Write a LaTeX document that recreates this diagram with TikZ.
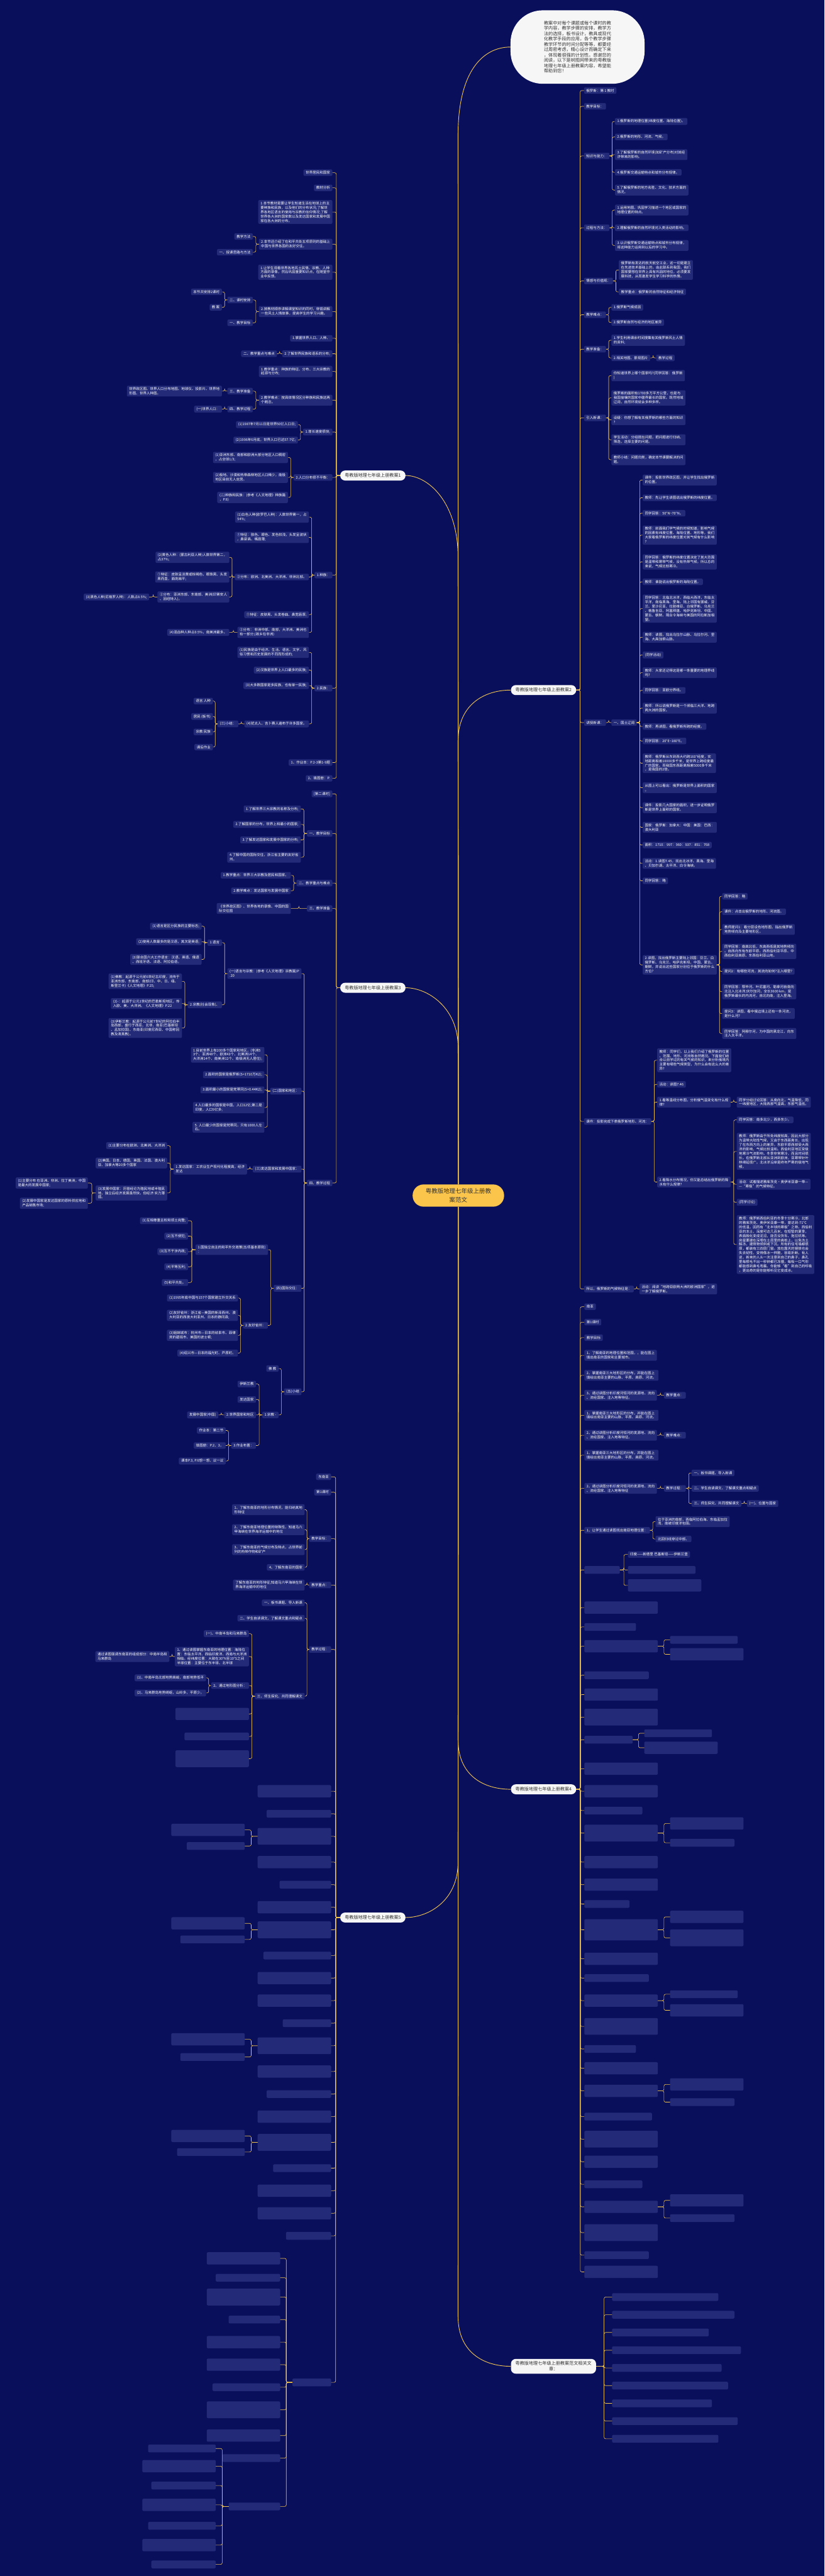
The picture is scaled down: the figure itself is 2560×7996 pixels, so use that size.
\documentclass[tikz,border=0pt]{standalone}
\usepackage{fontspec}
\setmainfont{Noto Sans CJK SC}
\usepackage{tikz}
\usetikzlibrary{positioning,calc}
\definecolor{bgNavy}{HTML}{0A0F5C}
\definecolor{leafBlue}{HTML}{232B78}
\definecolor{linkGold}{HTML}{F0C450}
\definecolor{mainWhite}{HTML}{F6F6F6}
\definecolor{rootYellow}{HTML}{FBC54B}
\definecolor{textGray}{HTML}{333333}
\tikzstyle{tLeaf} = [rectangle, rounded corners=4pt, fill=leafBlue, text=white, align=left, font=\fontsize{10.8}{13.5}\selectfont, inner xsep=7pt, inner ysep=5pt]
\tikzstyle{tMain} = [rectangle, rounded corners=15pt, fill=mainWhite, text=textGray, align=center, font=\fontsize{13.9}{17}\selectfont, inner xsep=14pt, inner ysep=8pt, minimum height=31pt]
\tikzstyle{tRoot} = [rectangle, rounded corners=34pt, fill=rootYellow, text=textGray, align=center, font=\fontsize{18.5}{26.7}\selectfont, minimum width=284pt, minimum height=69pt]
\tikzstyle{tNote} = [rectangle, rounded corners=100pt, fill=mainWhite, text=textGray, align=left, font=\fontsize{13.9}{16.6}\selectfont, minimum width=416pt, minimum height=228pt]
\tikzstyle{tLink} = [draw=linkGold, line width=1.2pt, rounded corners=5pt]
\tikzstyle{tTrunk} = [draw=linkGold, line width=1.8pt]
\newcommand{\linkR}[2]{\draw[tLink] (#1.east) -| ($(#1.east)!.5!(#2.west)$) |- (#2.west);}
\newcommand{\linkL}[2]{\draw[tLink] (#1.west) -| ($(#1.west)!.5!(#2.east)$) |- (#2.east);}
\begin{document}
\begin{tikzpicture}[x=1pt, y=-1pt]
\fill[bgNavy] (0,0) rectangle (2560,7996);
\useasboundingbox (0,0) rectangle (2560,7996);

% centre and main branches
\node[tRoot] (Root) at (1423,3711) {粤教版地理七年级上册教\\案范文};
\node[tNote] (Note) at (1793,146) {教案中对每个课题或每个课时的教\\学内容，教学步骤的安排，教学方\\法的选择，板书设计，教具或现代\\化教学手段的应用，各个教学步骤\\教学环节的时间分配等等，都要经\\过周密考虑，精心设计而确定下来\\，体现着很强的计划性。感谢您的\\阅读，以下是树图网带来的粤教版\\地理七年级上册教案内容，希望能\\帮助到您！};
\node[tMain, anchor=east] (PlanA) at (1259,1476) {粤教版地理七年级上册教案1};
\node[tMain, anchor=west] (PlanB) at (1586,2142) {粤教版地理七年级上册教案2};
\node[tMain, anchor=east] (PlanC) at (1259,3066) {粤教版地理七年级上册教案3};
\node[tMain, anchor=west] (PlanD) at (1586,5554) {粤教版地理七年级上册教案4};
\node[tMain, anchor=east] (PlanE) at (1259,5952) {粤教版地理七年级上册教案5};
\node[tMain, anchor=west] (PlanF) at (1586,7345) {粤教版地理七年级上册教案范文相关文\\章：};

\draw[tTrunk] (Root.north) -- (1422,420) .. controls (1422,220) and (1500,146) .. (Note.west);
\draw[tTrunk] (Root.north) -- (1422,1730) .. controls (1422,1560) and (1330,1476) .. (PlanA.east);
\draw[tTrunk] (Root.north) -- (1422,2300) .. controls (1422,2190) and (1500,2142) .. (PlanB.west);
\draw[tTrunk] (Root.north) -- (1422,3250) .. controls (1422,3130) and (1330,3066) .. (PlanC.east);
\draw[tTrunk] (Root.south) -- (1422,5400) .. controls (1422,5510) and (1500,5554) .. (PlanD.west);
\draw[tTrunk] (Root.south) -- (1422,5780) .. controls (1422,5900) and (1330,5952) .. (PlanE.east);
\draw[tTrunk] (Root.south) -- (1422,7190) .. controls (1422,7300) and (1500,7345) .. (PlanF.west);

% ---- plan 2 (right) ----
\node[tLeaf, anchor=west] (Rus1) at (1813,281) {俄罗斯：第 1 教时};
\node[tLeaf, anchor=west] (Goal) at (1813,330) {教学目标：};
\node[tLeaf, anchor=west] (Know) at (1813,484) {知识与能力：};
\node[tLeaf, anchor=west] (KnowA) at (1909,377) {1.俄罗斯的地理位置(纬度位置、海陆位置)。};
\node[tLeaf, anchor=west] (KnowB) at (1909,425) {2.俄罗斯的地形、河流、气候。};
\node[tLeaf, anchor=west] (KnowC) at (1909,480) {3.了解俄罗斯的自然环境(如矿产分布)对其经\\济带来的影响。};
\node[tLeaf, anchor=west] (KnowD) at (1909,535) {4.俄罗斯交通运输特点和城市分布规律。};
\node[tLeaf, anchor=west] (KnowE) at (1909,590) {5.了解俄罗斯的地方名胜、文化、技术方面的\\情况。};
\node[tLeaf, anchor=west] (Meth) at (1813,707) {过程与方法：};
\node[tLeaf, anchor=west] (MethA) at (1909,652) {1.运用地图，巩固学习描述一个地区或国家的\\地理位置的特点。};
\node[tLeaf, anchor=west] (MethB) at (1909,707) {2.理解俄罗斯的自然环境对人类活动的影响。};
\node[tLeaf, anchor=west] (MethC) at (1909,762) {3.认识俄罗斯交通运输特点和城市分布规律，\\将这种能力运用到以后的学习中。};
\node[tLeaf, anchor=west] (Emot) at (1813,872) {情感与价值观：};
\node[tLeaf, anchor=west] (EmotA) at (1921,838) {俄罗斯有发达的航天航空工业，这一切是建立\\在先进技术基础上的。由此联系到我国，我们\\国家要想在世界上具有巩固的地位，必须要发\\展科技，从而激发学生学习科学的热情。};
\node[tLeaf, anchor=west] (EmotB) at (1921,906) {教学重点：俄罗斯的自然特征和经济特征};
\node[tLeaf, anchor=west] (Hard) at (1813,977) {教学难点：};
\node[tLeaf, anchor=west] (HardA) at (1898,954) {1.俄罗斯气候成因};
\node[tLeaf, anchor=west] (HardB) at (1898,1001) {2.俄罗斯自然与经济的地区差异};
\node[tLeaf, anchor=west] (Prep) at (1813,1084) {教学准备：};
\node[tLeaf, anchor=west] (PrepA) at (1898,1056) {1.学生利用课余时间搜集有关俄罗斯风土人情\\的资料;};
\node[tLeaf, anchor=west] (PrepB) at (1898,1111) {2.相关地图、景观图片};
\node[tLeaf, anchor=west] (PrepC) at (2037,1111) {教学过程};
\node[tLeaf, anchor=west] (Intro) at (1813,1297) {引入新课：};
\node[tLeaf, anchor=west] (IntroA) at (1898,1166) {你知道世界上哪个国家吗?(同学回答：俄罗斯\\)};
\node[tLeaf, anchor=west] (IntroB) at (1898,1235) {俄罗斯的面积有1700多万平方公里，也是与\\我国接壤的国家中疆界最长的国家。既然地域\\辽阔，自然环境就会多种多样。};
\node[tLeaf, anchor=west] (IntroC) at (1898,1303) {设疑：你想了解有关俄罗斯的哪些方面的知识\\?};
\node[tLeaf, anchor=west] (IntroD) at (1898,1365) {学生活动：分组提出问题，把问题进行归纳、\\筛选，选择主要的问题。};
\node[tLeaf, anchor=west] (IntroE) at (1898,1427) {教师小结：问题归类，确定本节课要解决的问\\题。};
\node[tLeaf, anchor=west] (Teach) at (1813,2243) {讲授新课：};
\node[tLeaf, anchor=west] (Land) at (1898,2243) {一、国土辽阔};
\node[tLeaf, anchor=west] (LandA) at (1995,1490) {课件：投影世界政区图，并让学生找出俄罗斯\\的位置。};
\node[tLeaf, anchor=west] (LandB) at (1995,1545) {教师：先让学生读图说出俄罗斯的纬度位置。};
\node[tLeaf, anchor=west] (LandC) at (1995,1593) {同学回答：50°N\textasciitilde70°N。};
\node[tLeaf, anchor=west] (LandD) at (1995,1661) {教师：前面我们学气候的时候知道，影响气候\\的因素有纬度位置、海陆位置、地形等，我们\\大家看俄罗斯的纬度位置对其气候有什么影响\\?};
\node[tLeaf, anchor=west] (LandE) at (1995,1744) {同学回答：俄罗斯的纬度位置决定了其大范围\\是温带和寒带气候，没有热带气候。所以总的\\来说，气候比较寒冷。};
\node[tLeaf, anchor=west] (LandF) at (1995,1806) {教师：谁能说出俄罗斯的海陆位置。};
\node[tLeaf, anchor=west] (LandG) at (1995,1889) {同学回答：北临北冰洋，西临大西洋，东临太\\平洋，南临黑海、里海。陆上邻国有挪威、芬\\兰、爱沙尼亚、拉脱维亚、白俄罗斯、乌克兰\\、格鲁吉亚、阿塞拜疆、哈萨克斯坦、中国、\\蒙古、朝鲜。隔白令海峡与美国的阿拉斯加相\\望。};
\node[tLeaf, anchor=west] (LandH) at (1995,1978) {教师：读图，找出乌拉尔山脉、乌拉尔河、里\\海、大高加索山脉。};
\node[tLeaf, anchor=west] (LandI) at (1995,2033) {(同学活动)};
\node[tLeaf, anchor=west] (LandJ) at (1995,2088) {教师：大家还记得这是哪一条重要的地理界线\\吗?};
\node[tLeaf, anchor=west] (LandK) at (1995,2143) {同学回答：亚欧分界线。};
\node[tLeaf, anchor=west] (LandL) at (1995,2198) {教师：所以说俄罗斯是一个濒临三大洋、地跨\\两大洲的国家。};
\node[tLeaf, anchor=west] (LandM) at (1995,2255) {教师：再读图，看俄罗斯所跨的经度。};
\node[tLeaf, anchor=west] (LandN) at (1995,2300) {同学回答：20°E\textasciitilde180°E。};
\node[tLeaf, anchor=west] (LandO) at (1995,2369) {教师：俄罗斯从东到西大约跨160°经度，实\\地距离相差10000多千米，是世界上跨经度最\\广的国家。而我国东西距离相差5000多千米\\，是我国的2倍。};
\node[tLeaf, anchor=west] (LandP) at (1995,2445) {从图上可以看出：俄罗斯是世界上面积的国家\\。};
\node[tLeaf, anchor=west] (LandQ) at (1995,2507) {课件：投影几大国家的面积，进一步证明俄罗\\斯是世界上面积的国家。};
\node[tLeaf, anchor=west] (LandR) at (1995,2568) {国家：俄罗斯：加拿大：中国：美国：巴西：\\澳大利亚};
\node[tLeaf, anchor=west] (LandS) at (1995,2623) {面积：1710：997：960：937：851：768};
\node[tLeaf, anchor=west] (LandT) at (1995,2680) {活动：1.读图7.45，找出北冰洋、黑海、里海\\、贝加尔湖、太平洋、白令海峡。};
\node[tLeaf, anchor=west] (LandU) at (1995,2734) {同学回答：略};
\node[tLeaf, anchor=west] (Nbr) at (1995,2995) {2.读图，找出俄罗斯主要陆上邻国：芬兰、白\\俄罗斯、乌克兰、哈萨克斯坦、中国、蒙古、\\朝鲜，并说出这些国家分别位于俄罗斯的什么\\方位?};
\node[tLeaf, anchor=west] (NbrA) at (2242,2782) {同学回答：略};
\node[tLeaf, anchor=west] (NbrB) at (2242,2830) {课件：点击出俄罗斯的地形、河流图。};
\node[tLeaf, anchor=west] (NbrC) at (2242,2885) {教师提问1：看分层设色地形图，指出俄罗斯\\地势倾向及主要地形区。};
\node[tLeaf, anchor=west] (NbrD) at (2242,2953) {同学回答：南高北低，东高西低是其地势倾向\\。自西向东有东欧平原、西西伯利亚平原、中\\西伯利亚高原、东西伯利亚山地。};
\node[tLeaf, anchor=west] (NbrE) at (2242,3015) {提问2：有哪些河流，其流向如何?注入哪里?};
\node[tLeaf, anchor=west] (NbrF) at (2242,3078) {同学回答：鄂毕河、叶尼塞河、勒拿河自南向\\北注入北冰洋;伏尔加河，全长3600 km，是\\俄罗斯最长的内流河，自北向南，注入里海。};
\node[tLeaf, anchor=west] (NbrG) at (2242,3146) {提问3：读图，看中俄边境上还有一条河流，\\是什么河?};
\node[tLeaf, anchor=west] (NbrH) at (2242,3208) {同学回答：阿穆尔河，为中国的黑龙江，向东\\注入太平洋。};
\node[tLeaf, anchor=west] (Ware) at (1813,3481) {课件：投影完成下表俄罗斯地形、河流：};
\node[tLeaf, anchor=west] (WareA) at (2040,3291) {教师：同学们，以上我们介绍了俄罗斯的位置\\、范围、地形、河流等自然概况。下面我们结\\合以前学过的有关气候的知识，来分析俄境内\\主要有哪些气候类型，为什么会有这么大的差\\异?};
\node[tLeaf, anchor=west] (WareB) at (2040,3366) {活动：读图7.46};
\node[tLeaf, anchor=west] (WareC) at (2040,3421) {1.看等温线分布图，分析俄气温变化有什么规\\律?};
\node[tLeaf, anchor=west] (WareCa) at (2287,3421) {同学分组讨论回答：从南向北，气温降低，同\\一纬度地区，大陆西部气温高，东部气温低。};
\node[tLeaf, anchor=west] (WareD) at (2040,3669) {2.看降水分布情况，你又能总结出俄罗斯的降\\水有什么规律?};
\node[tLeaf, anchor=west] (WareDa) at (2287,3476) {同学回答：南多北少，西多东少。};
\node[tLeaf, anchor=west] (WareDb) at (2287,3574) {教师：俄罗斯由于所处纬度较高，因此大部分\\为温带大陆性气候，又由于东西距离长，出现\\了在东西方向上的差异。东欧平原西部受大西\\洋的影响，气候比较温和。西伯利亚地区受极\\地寒冷气流影响，冬季非常寒冷，而且时间很\\长。在俄罗斯北部从亚洲到欧洲，亚寒带针叶\\林绵延很广。北冰洋沿岸是终年严寒的极地气\\候。};
\node[tLeaf, anchor=west] (WareDc) at (2287,3676) {活动：试着描述雅库茨克•奥伊米亚康一带—\\—“寒极”的气候特征。};
\node[tLeaf, anchor=west] (WareDd) at (2287,3732) {(同学讨论)};
\node[tLeaf, anchor=west] (WareDe) at (2287,3863) {教师：俄罗斯西伯利亚的冬季十分寒冷，北部\\的雅库茨克、奥伊米亚康一带，曾达到-71℃\\的低温，因而有“北半球的寒极”之称。西伯利\\亚的冻土，深度可达几百米，在短暂的夏季，\\表面融化变成泥沼，能否没货车、拖拉机等。\\房屋要建在深埋在土层里的高桩上，以免冻土\\解冻，建筑物倾斜或下沉。所有的住宅墙都很\\厚，都装有三四层门窗。放在露天的钢铁也会\\失去韧性，变得像冰一样脆，容易折断。有人\\说，新来的人头一次注意到自己的鼻子，鼻孔\\里每根毛不出一秒钟都已冻僵，每吸一口气你\\都能感到鼻毛弯霰。你能够“看”到自己的呼吸\\，更出奇的是你能够听见它变成冰。};
\node[tLeaf, anchor=west] (Clim) at (1813,4001) {所以，俄罗斯的气候特征是：};
\node[tLeaf, anchor=west] (ClimA) at (1985,4001) {活动：阅读“地跨亚欧两大洲的欧洲国家”，进\\一步了解俄罗斯。};

\foreach \n in {Rus1,Goal,Know,Meth,Emot,Hard,Prep,Intro,Teach,Ware,Clim} {\linkR{PlanB}{\n}}
\foreach \n in {KnowA,KnowB,KnowC,KnowD,KnowE} {\linkR{Know}{\n}}
\foreach \n in {MethA,MethB,MethC} {\linkR{Meth}{\n}}
\foreach \n in {EmotA,EmotB} {\linkR{Emot}{\n}}
\foreach \n in {HardA,HardB} {\linkR{Hard}{\n}}
\foreach \n in {PrepA,PrepB} {\linkR{Prep}{\n}}
\linkR{PrepB}{PrepC}
\foreach \n in {IntroA,IntroB,IntroC,IntroD,IntroE} {\linkR{Intro}{\n}}
\linkR{Teach}{Land}
\foreach \n in {LandA,LandB,LandC,LandD,LandE,LandF,LandG,LandH,LandI,LandJ,LandK,LandL,LandM,LandN,LandO,LandP,LandQ,LandR,LandS,LandT,LandU,Nbr} {\linkR{Land}{\n}}
\foreach \n in {NbrA,NbrB,NbrC,NbrD,NbrE,NbrF,NbrG,NbrH} {\linkR{Nbr}{\n}}
\foreach \n in {WareA,WareB,WareC,WareD} {\linkR{Ware}{\n}}
\linkR{WareC}{WareCa}
\foreach \n in {WareDa,WareDb,WareDc,WareDd,WareDe} {\linkR{WareD}{\n}}
\linkR{Clim}{ClimA}

% ---- plan 4 (right) ----
\node[tLeaf, anchor=west] (SAsia) at (1814,4056) {南亚};
\node[tLeaf, anchor=west] (SALes) at (1814,4104) {第1课时};
\node[tLeaf, anchor=west] (SAGoal) at (1814,4152) {教学目标};
\node[tLeaf, anchor=west] (SAa) at (1814,4207) {1、了解南亚的地理位置和范围，，能在图上\\填出南亚的国家和主要城市。};
\node[tLeaf, anchor=west] (SAb) at (1814,4269) {2、掌握南亚三大地形区的分布，并能在图上\\填绘出南亚主要的山脉、平原、高原、河流。};
\node[tLeaf, anchor=west] (SAc) at (1814,4331) {3、通过读图分析印度河恒河的发源地、流向\\、流经国家、注入地等特征。};
\node[tLeaf, anchor=west] (SAKey) at (2061,4331) {教学重点：};
\node[tLeaf, anchor=west] (SAd) at (1814,4393) {1、掌握南亚三大地形区的分布，并能在图上\\填绘出南亚主要的山脉、平原、高原、河流。};
\node[tLeaf, anchor=west] (SAe) at (1814,4455) {2、通过读图分析印度河恒河的发源地、流向\\、流经国家、注入地等特征。};
\node[tLeaf, anchor=west] (SAHard) at (2061,4455) {教学难点：};
\node[tLeaf, anchor=west] (SAf) at (1814,4517) {1、掌握南亚三大地形区的分布，并能在图上\\填绘出南亚主要的山脉、平原、高原、河流。};
\node[tLeaf, anchor=west] (SAg) at (1814,4620) {2、通过读图分析印度河恒河的发源地、流向\\、流经国家、注入地等特征};
\node[tLeaf, anchor=west] (SAProc) at (2061,4620) {教学过程：};
\node[tLeaf, anchor=west] (SAPa) at (2147,4572) {一、板书课题、导入新课};
\node[tLeaf, anchor=west] (SAPb) at (2147,4620) {二、学生自读课文、了解课文重点和疑点};
\node[tLeaf, anchor=west] (SAPc) at (2147,4667) {三、师生探究、共同理解课文};
\node[tLeaf, anchor=west] (SAPd) at (2319,4667) {(一)、位置与国家};
\node[tLeaf, anchor=west] (SAh) at (1814,4750) {1、让学生通过读图找出南亚地理位置：};
\node[tLeaf, anchor=west] (SAha) at (2035,4723) {位于亚洲的南部，西临阿拉伯海、东临孟加拉\\湾，南被印度洋包围。};
\node[tLeaf, anchor=west] (SAhb) at (2035,4777) {北回归线穿过中部。};
\node[tLeaf, anchor=west, minimum width=110pt, minimum height=24pt] (SAi) at (1814,4873) {};
\node[tLeaf, anchor=west] (SAia) at (1949,4825) {印度——新德里 巴基斯坦——伊斯兰堡};
\node[tLeaf, anchor=west, minimum width=210pt, minimum height=24pt] (SAib) at (1949,4873) {};
\node[tLeaf, anchor=west, minimum width=228pt, minimum height=38pt] (SAic) at (1949,4921) {};

\foreach \n in {SAsia,SALes,SAGoal,SAa,SAb,SAc,SAd,SAe,SAf,SAg,SAh,SAi} {\linkR{PlanD}{\n}}
\linkR{SAc}{SAKey}
\linkR{SAe}{SAHard}
\linkR{SAg}{SAProc}
\foreach \n in {SAPa,SAPb,SAPc} {\linkR{SAProc}{\n}}
\linkR{SAPc}{SAPd}
\foreach \n in {SAha,SAhb} {\linkR{SAh}{\n}}
\foreach \n in {SAia,SAib,SAic} {\linkR{SAi}{\n}}

% rest of plan 4
\foreach \i/\yy/\ww/\hh in {2/4990/228/38,3/5050/160/24,4/5110/228/38,5/5200/200/24,6/5260/228/38,7/5330/228/52,8/5400/150/24,9/5490/228/38,10/5560/228/38,11/5620/180/24,12/5690/228/52,13/5780/228/38,14/5850/228/38,15/5910/140/24,16/5990/228/66,17/6080/228/38,18/6140/200/24,19/6210/228/38,20/6290/228/52,21/6360/160/24,22/6420/228/38,23/6490/228/38,24/6570/210/24,25/6640/228/52,26/6710/228/38,27/6780/180/24,28/6850/228/38,29/6930/228/52,30/7000/200/24,31/7052/228/38} {
  \node[tLeaf, anchor=west, minimum width=\ww pt, minimum height=\hh pt] (SAx\i) at (1814,\yy) {};
  \linkR{PlanD}{SAx\i}
}
\foreach \j/\p/\xx/\yy/\ww/\hh in {1/4/2080/5090/210/24,2/4/2080/5135/228/38,3/8/2000/5380/210/24,4/8/2000/5425/228/38,5/12/2080/5660/228/38,6/12/2080/5720/200/24,7/16/2080/5950/228/38,8/16/2080/6015/228/52,9/19/2080/6190/210/24,10/19/2080/6240/228/38,11/23/2080/6470/228/38,12/23/2080/6525/200/24,13/28/2080/6830/228/38,14/28/2080/6885/200/24} {
  \node[tLeaf, anchor=west, minimum width=\ww pt, minimum height=\hh pt] (SAy\j) at (\xx,\yy) {};
  \linkR{SAx\p}{SAy\j}
}

% ---- plan 6 (right) ----
\foreach \i/\yy/\ww in {1/7130/330,2/7185/380,3/7240/300,4/7295/400,5/7350/340,6/7405/360,7/7460/310,8/7515/390,9/7570/330} {
  \node[tLeaf, anchor=west, minimum width=\ww pt, minimum height=24pt] (Rel\i) at (1900,\yy) {};
  \linkR{PlanF}{Rel\i}
}

% ---- plan 1 (left) ----
\node[tLeaf, anchor=east] (WRes) at (1032,536) {世界居民和国家};
\node[tLeaf, anchor=east] (TAna) at (1032,583) {教材分析};
\node[tLeaf, anchor=east] (TAnaA) at (1032,658) {1.本节教材是要让学生知道生活在地球上的主\\要种族和民族，以及他们的分布状况;了解世\\界各地区语言的使用与宗教的信仰情况;了解\\世界各大洲的国家数以及发达国家和发展中国\\家在各大洲的分布。};
\node[tLeaf, anchor=east] (TAnaB) at (1032,758) {2.本节还介绍了在和平共处五项原则的基础上\\中国与世界各国的友好交往。};
\node[tLeaf, anchor=east] (TMeth) at (785,734) {教学方法};
\node[tLeaf, anchor=east] (TIdea) at (785,783) {一、授课思路与方法};
\node[tLeaf, anchor=east] (Video) at (1032,845) {1.让学生观看世界各地风土民情、宗教、人种\\方面的录像，然后巩固重要知识点，在随堂作\\业中反馈。};
\node[tLeaf, anchor=east] (Order) at (1032,967) {2.按教材顺序讲解课堂知识的同时，穿插讲解\\一些风土人情故事，提高学生的学习兴趣。};
\node[tLeaf, anchor=east] (Sched) at (785,931) {二、课时安排};
\node[tLeaf, anchor=east] (SchedA) at (689,906) {本节共安排2课时};
\node[tLeaf, anchor=east] (SchedB) at (689,954) {教 案};
\node[tLeaf, anchor=east] (AimA) at (785,1002) {一、教学目标};
\node[tLeaf, anchor=east] (PopA) at (1032,1050) {1.掌握世界人口、人种、};
\node[tLeaf, anchor=east] (PopB) at (1032,1098) {2.了解世界民族和语系的分布;};
\node[tLeaf, anchor=east] (KeyA) at (860,1098) {二、教学重点与难点};
\node[tLeaf, anchor=east] (KeyP) at (1032,1153) {1.教学重点：种族的特征、分布、三大宗教的\\起源与分布;};
\node[tLeaf, anchor=east] (HardP) at (1032,1242) {2.教学难点：按具体情况区分种族和民族这两\\个概念。};
\node[tLeaf, anchor=east] (PrepT) at (785,1214) {三、教学准备};
\node[tLeaf, anchor=east] (PrepTa) at (689,1214) {世界政区图、世界人口分布地图、地球仪、投影片、世界地\\形图、世界人种图。};
\node[tLeaf, anchor=east] (ProcT) at (785,1270) {四、教学过程};
\node[tLeaf, anchor=east] (ProcTa) at (689,1270) {(一)世界人口：};
\node[tLeaf, anchor=east] (Grow) at (1032,1341) {1.增长速度很快;};
\node[tLeaf, anchor=east] (GrowA) at (925,1318) {(1)1987年7月11日是世界50亿人口日;};
\node[tLeaf, anchor=east] (GrowB) at (925,1366) {(2)1996年6月底，世界人口已达57.7亿;};
\node[tLeaf, anchor=east] (Dist) at (1032,1482) {2.人口分布很不平衡：};
\node[tLeaf, anchor=east] (DistA) at (894,1420) {(1)亚洲东部、南部和欧洲大部分地区人口稠密\\，占全球1/3;};
\node[tLeaf, anchor=east] (DistB) at (894,1482) {(2)极地、沙漠和热带森林地区人口稀少，南极\\地区目前无人定居。};
\node[tLeaf, anchor=east] (DistC) at (894,1544) {(二)种族和民族：(参考《人文地理》种族篇\\，P.8)};
\node[tLeaf, anchor=east] (Race) at (1032,1785) {1.种族：};
\node[tLeaf, anchor=east] (RaceA) at (959,1605) {(1)白色人种(欧罗巴人种)：人数世界第一，占\\54\%;};
\node[tLeaf, anchor=east] (RaceB) at (959,1668) {①特征：肤色、眼色、发色较浅，头发呈波状\\，鼻梁高、嘴唇薄;};
\node[tLeaf, anchor=east] (RaceC) at (959,1791) {②分布：欧洲、北美洲、大洋洲、非洲北部。};
\node[tLeaf, anchor=east] (RaceCa) at (712,1730) {(2)黄色人种：(蒙古利亚人种)人数世界第二，\\占37\%;};
\node[tLeaf, anchor=east] (RaceCb) at (712,1791) {①特征：皮肤呈淡黄或棕褐色，眼珠黑、头发\\黑而直，面庞扁平;};
\node[tLeaf, anchor=east] (RaceCc) at (712,1853) {②分布：亚洲东部、东南部、美洲(印第安人\\、因纽特人)。};
\node[tLeaf, anchor=east] (Black) at (463,1853) {(3)黑色人种(尼格罗人种)：人数占8.5\%;};
\node[tLeaf, anchor=east] (RaceD) at (959,1908) {①特征：皮肤黑、头发卷曲、鼻宽唇厚;};
\node[tLeaf, anchor=east] (RaceE) at (959,1963) {②分布： 非洲中部、南部，大洋洲、美洲也\\有一部分;(故乡在非洲)};
\node[tLeaf, anchor=east] (Mixed) at (712,1963) {(4)混血种人种占0.5\%，南美洲最多。};
\node[tLeaf, anchor=east] (Nat) at (1032,2136) {2.民族：};
\node[tLeaf, anchor=east] (NatA) at (959,2025) {(1)民族是由于经济、生活、语言、文字、风\\俗习惯和历史发展的不同而形成的;};
\node[tLeaf, anchor=east] (NatB) at (959,2080) {(2)汉族是世界上人口最多的民族;};
\node[tLeaf, anchor=east] (NatC) at (959,2128) {(3)大多数国家是多民族，也有单一民族;};
\node[tLeaf, anchor=east] (NatD) at (959,2247) {(4)犹太人、吉卜赛人遍布于许多国家。};
\node[tLeaf, anchor=east] (SumT) at (740,2247) {(三)小结：};
\node[tLeaf, anchor=east] (SumTa) at (661,2176) {语言 人种};
\node[tLeaf, anchor=east] (SumTb) at (661,2224) {居民 (板书)};
\node[tLeaf, anchor=east] (SumTc) at (661,2272) {宗教 民族};
\node[tLeaf, anchor=east] (SumTd) at (661,2319) {课后作业};
\node[tLeaf, anchor=east] (HwA) at (1032,2367) {1、作业本：P.2-3第1-9题};
\node[tLeaf, anchor=east] (HwB) at (1032,2416) {2、填图册：P.};

\foreach \n in {WRes,TAna,TAnaA,TAnaB,Video,Order,PopA,PopB,KeyP,HardP,Grow,Dist,Race,Nat,HwA,HwB} {\linkL{PlanA}{\n}}
\foreach \n in {TMeth,TIdea} {\linkL{TAnaB}{\n}}
\foreach \n in {Sched,AimA} {\linkL{Order}{\n}}
\foreach \n in {SchedA,SchedB} {\linkL{Sched}{\n}}
\linkL{PopB}{KeyA}
\foreach \n in {PrepT,ProcT} {\linkL{HardP}{\n}}
\linkL{PrepT}{PrepTa}
\linkL{ProcT}{ProcTa}
\foreach \n in {GrowA,GrowB} {\linkL{Grow}{\n}}
\foreach \n in {DistA,DistB,DistC} {\linkL{Dist}{\n}}
\foreach \n in {RaceA,RaceB,RaceC,RaceD,RaceE} {\linkL{Race}{\n}}
\foreach \n in {RaceCa,RaceCb,RaceCc} {\linkL{RaceC}{\n}}
\linkL{RaceCc}{Black}
\linkL{RaceE}{Mixed}
\foreach \n in {NatA,NatB,NatC,NatD} {\linkL{Nat}{\n}}
\linkL{NatD}{SumT}
\foreach \n in {SumTa,SumTb,SumTc,SumTd} {\linkL{SumT}{\n}}

% ---- plan 3 (left) ----
\node[tLeaf, anchor=east] (SecTwo) at (1032,2464) {[第二课时]};
\node[tLeaf, anchor=east] (AimB) at (1032,2587) {一、教学目标};
\node[tLeaf, anchor=east] (AimBa) at (934,2511) {1.了解世界三大宗教的名称及分布;};
\node[tLeaf, anchor=east] (AimBb) at (934,2559) {2.了解国家的分布，世界上和最小的国家;};
\node[tLeaf, anchor=east] (AimBc) at (934,2607) {3.了解发达国家和发展中国家的分布;};
\node[tLeaf, anchor=east] (AimBd) at (934,2661) {4.了解中国的国际交往，浙江省主要的友好省\\州。};
\node[tLeaf, anchor=east] (KeyB) at (1032,2741) {二、教学重点与难点};
\node[tLeaf, anchor=east] (KeyBa) at (903,2717) {1.教学重点：世界三大宗教及居民和国家。};
\node[tLeaf, anchor=east] (KeyBb) at (903,2765) {2.教学难点：发达国家与发展中国家};
\node[tLeaf, anchor=east] (PrepB3) at (1032,2820) {三、教学准备};
\node[tLeaf, anchor=east] (PrepB3a) at (903,2820) {《世界政区图》、世界各地的录像、中国的国\\际交往图};
\node[tLeaf, anchor=east] (ProcB) at (1032,3672) {四、教学过程};
\node[tLeaf, anchor=east] (LangRel) at (936,3022) {(一)语言与宗教：(参考《人文地理》宗教篇)P\\.20};
\node[tLeaf, anchor=east] (Lang) at (689,2926) {1.语言};
\node[tLeaf, anchor=east] (LangA) at (626,2875) {(1)语言是区分民族的主要标志;};
\node[tLeaf, anchor=east] (LangB) at (626,2923) {(2)使用人数最多的是汉语，其次是英语;};
\node[tLeaf, anchor=east] (LangC) at (626,2978) {(3)联合国六大工作语言：汉语、英语、俄语\\、西班牙语、法语、阿拉伯语。};
\node[tLeaf, anchor=east] (Relig) at (689,3119) {2.宗教(社会现象)、};
\node[tLeaf, anchor=east] (RelA) at (565,3046) {(1)佛教：起源于公元前6世纪古印度，流传于\\亚洲东部、东南部、南部(印、中、日、缅、\\斯里兰卡)《人文地理》P.25;};
\node[tLeaf, anchor=east] (RelB) at (565,3115) {(2)-：起源于公元1世纪的巴勒斯坦地区，传\\入欧、美、大洋洲。《人文地理》P.22};
\node[tLeaf, anchor=east] (RelC) at (565,3191) {(3)伊斯兰教：起源于公元前7世纪的阿拉伯半\\岛西部，盛行于西亚、北非、南亚(巴基斯坦\\、孟加拉国)、东南亚(印度尼西亚、中国称回\\教及清真教)。};
\node[tLeaf, anchor=east] (Cty) at (936,3387) {(二)国家和地区：};
\node[tLeaf, anchor=east] (CtyA) at (821,3274) {1.目前世界上有200多个国家和地区，(非洲5\\3个、亚洲48个、欧洲43个、北美洲14个、\\大洋洲14个、南美洲12个、南极洲无人居住);};
\node[tLeaf, anchor=east] (CtyB) at (821,3336) {2.面积的国家是俄罗斯(S=1710万K2);};
\node[tLeaf, anchor=east] (CtyC) at (821,3383) {3.面积最小的国家是梵蒂冈(S=0.44K2);};
\node[tLeaf, anchor=east] (CtyD) at (821,3438) {4.人口最多的国家是中国，人口12亿;第二是\\印度，人口9亿多;};
\node[tLeaf, anchor=east] (CtyE) at (821,3499) {5. 人口最少的国家是梵蒂冈，只有1000人左\\右。};
\node[tLeaf, anchor=east] (DevC) at (936,3629) {(三)发达国家和发展中国家：};
\node[tLeaf, anchor=east] (DevA) at (767,3629) {1.发达国家：工农业生产现代化程度高，经济\\发达};
\node[tLeaf, anchor=east] (DevAa) at (519,3556) {(1)主要分布在欧洲、北美洲、大洋洲};
\node[tLeaf, anchor=east] (DevAb) at (519,3610) {(2)美国、日本、德国、英国、法国、澳大利\\亚、加拿大等20多个国家};
\node[tLeaf, anchor=east] (DevAc) at (519,3703) {(3)发展中国家：历管经沦为殖民地或半殖民\\地，独立后经济发展虽然快，但经济 实力薄\\弱。};
\node[tLeaf, anchor=east] (DevBa) at (273,3672) {(1)主要分布 在亚洲、非洲、拉丁美洲，中国\\是最大的发展中国家;};
\node[tLeaf, anchor=east] (DevBb) at (273,3735) {(2)发展中国家是发达国家的原料供应地和\\产品销售市场;};
\node[tLeaf, anchor=east] (Intl) at (936,3999) {(四)国际交往：};
\node[tLeaf, anchor=east] (Pol) at (832,3879) {1.国独立自主的和平外交政策(五项基本原则)\\：};
\node[tLeaf, anchor=east] (PolA) at (584,3789) {(1)互相尊重主权和领土完整;};
\node[tLeaf, anchor=east] (PolB) at (584,3837) {(2)互不侵犯;};
\node[tLeaf, anchor=east] (PolC) at (584,3885) {(3)互不干涉内政;};
\node[tLeaf, anchor=east] (PolD) at (584,3932) {(4)平等互利;};
\node[tLeaf, anchor=east] (PolE) at (584,3981) {(5)和平共处。};
\node[tLeaf, anchor=east] (Frd) at (832,4114) {2.友好省州：};
\node[tLeaf, anchor=east] (FrdA) at (739,4029) {(1)1995年底中国与157个国家建立外交关系};
\node[tLeaf, anchor=east] (FrdB) at (739,4083) {(2)友好省州：浙江省—美国的新泽西州、澳\\大利亚的西澳大利亚州、日本的静冈县;};
\node[tLeaf, anchor=east] (FrdC) at (739,4145) {(3)姐妹城市：杭州市—日本的岐阜市、菲律\\宾的碧瑶市、美国的波士顿;};
\node[tLeaf, anchor=east] (FrdD) at (739,4200) {(4)绍兴市—日本的福光町、芦原町。};
\node[tLeaf, anchor=east] (SumF) at (936,4320) {(五)小结};
\node[tLeaf, anchor=east] (Budd) at (865,4248) {佛 教};
\node[tLeaf, anchor=east] (RelS) at (865,4392) {1.宗教 -};
\node[tLeaf, anchor=east] (Islm) at (795,4296) {伊斯兰教};
\node[tLeaf, anchor=east] (DevS) at (795,4344) {发达国家};
\node[tLeaf, anchor=east] (WCty) at (795,4392) {2.世界国家和地区};
\node[tLeaf, anchor=east] (DevCn) at (678,4392) {发展中国家(中国)};
\node[tLeaf, anchor=east] (HwC) at (795,4487) {3.作业布置：};
\node[tLeaf, anchor=east] (HwCa) at (701,4440) {作业本：第二节};
\node[tLeaf, anchor=east] (HwCb) at (701,4487) {填图册：P.2、3，};
\node[tLeaf, anchor=east] (HwCc) at (701,4535) {课本P.3, P.6想一想、议一议};

\foreach \n in {SecTwo,AimB,KeyB,PrepB3,ProcB} {\linkL{PlanC}{\n}}
\foreach \n in {AimBa,AimBb,AimBc,AimBd} {\linkL{AimB}{\n}}
\foreach \n in {KeyBa,KeyBb} {\linkL{KeyB}{\n}}
\linkL{PrepB3}{PrepB3a}
\foreach \n in {LangRel,Cty,DevC,Intl,SumF} {\linkL{ProcB}{\n}}
\foreach \n in {Lang,Relig} {\linkL{LangRel}{\n}}
\foreach \n in {LangA,LangB,LangC} {\linkL{Lang}{\n}}
\foreach \n in {RelA,RelB,RelC} {\linkL{Relig}{\n}}
\foreach \n in {CtyA,CtyB,CtyC,CtyD,CtyE} {\linkL{Cty}{\n}}
\linkL{DevC}{DevA}
\foreach \n in {DevAa,DevAb,DevAc} {\linkL{DevA}{\n}}
\foreach \n in {DevBa,DevBb} {\linkL{DevAc}{\n}}
\foreach \n in {Pol,Frd} {\linkL{Intl}{\n}}
\foreach \n in {PolA,PolB,PolC,PolD,PolE} {\linkL{Pol}{\n}}
\foreach \n in {FrdA,FrdB,FrdC,FrdD} {\linkL{Frd}{\n}}
\foreach \n in {Budd,RelS} {\linkL{SumF}{\n}}
\foreach \n in {Islm,DevS,WCty,HwC} {\linkL{RelS}{\n}}
\linkL{WCty}{DevCn}
\foreach \n in {HwCa,HwCb,HwCc} {\linkL{HwC}{\n}}

% ---- plan 5 (left) ----
\node[tLeaf, anchor=east] (SEAsia) at (1028,4584) {东南亚};
\node[tLeaf, anchor=east] (SELes) at (1028,4632) {第1课时};
\node[tLeaf, anchor=east] (SEGoal) at (1028,4776) {教学目标：};
\node[tLeaf, anchor=east] (SEGa) at (946,4686) {1、了解东南亚的地形分布情况，能归纳其地\\形特征};
\node[tLeaf, anchor=east] (SEGb) at (946,4748) {2、了解东南亚地理位置的特殊性，知道马六\\甲海峡在世界海洋运输中的地位};
\node[tLeaf, anchor=east] (SEGc) at (946,4810) {3、了解东南亚的气候分布及特点，占世界前\\列的热带作物和矿产};
\node[tLeaf, anchor=east] (SEGd) at (946,4865) {4、了解东南亚的国家};
\node[tLeaf, anchor=east] (SEKey) at (1028,4920) {教学重点：};
\node[tLeaf, anchor=east] (SEKeya) at (946,4920) {了解东南亚的地形特征;知道马六甲海峡在世\\界海洋运输中的地位};
\node[tLeaf, anchor=east] (SEProc) at (1028,5120) {教学过程：};
\node[tLeaf, anchor=east] (SEPa) at (946,4975) {一、板书课题、导入新课};
\node[tLeaf, anchor=east] (SEPb) at (946,5023) {二、学生自读课文、了解课文重点和疑点};
\node[tLeaf, anchor=east] (SEPc) at (946,5265) {三、师生探究、共同理解课文};
\node[tLeaf, anchor=east] (SEPca) at (773,5071) {(一)、中南半岛和马来群岛};
\node[tLeaf, anchor=east] (SEPcb) at (773,5142) {1、通过读图掌握东南亚的地理位置：海陆位\\置：东临太平洋、西临印度洋、西南与大洋洲\\相临。经纬度位置：大致在30°N至10°S之间\\半球位置：主要位于东半球、北半球};
\node[tLeaf, anchor=east] (SEPcba) at (526,5142) {通过读图强调东南亚的组成部分：中南半岛和\\马来群岛};
\node[tLeaf, anchor=east] (SEPcc) at (773,5232) {2、通过地形图分析：};
\node[tLeaf, anchor=east] (SEPcca) at (640,5208) {(1)、中南半岛北部地势高峻，南部地势低平};
\node[tLeaf, anchor=east] (SEPccb) at (640,5255) {(2)、马来群岛地势崎岖，山岭多，平原少。};
\node[tLeaf, anchor=east, minimum width=228pt, minimum height=38pt] (SEPcd) at (773,5320) {};
\node[tLeaf, anchor=east, minimum width=200pt, minimum height=24pt] (SEPce) at (773,5390) {};
\node[tLeaf, anchor=east, minimum width=228pt, minimum height=52pt] (SEPcf) at (773,5459) {};

\foreach \n in {SEAsia,SELes,SEGoal,SEKey,SEProc} {\linkL{PlanE}{\n}}
\foreach \n in {SEGa,SEGb,SEGc,SEGd} {\linkL{SEGoal}{\n}}
\linkL{SEKey}{SEKeya}
\foreach \n in {SEPa,SEPb,SEPc} {\linkL{SEProc}{\n}}
\foreach \n in {SEPca,SEPcb,SEPcc,SEPcd,SEPce,SEPcf} {\linkL{SEPc}{\n}}
\linkL{SEPcb}{SEPcba}
\foreach \n in {SEPcca,SEPccb} {\linkL{SEPcc}{\n}}

% rest of plan 5
\foreach \i/\yy/\ww/\hh in {1/5560/228/38,2/5630/200/24,3/5700/228/52,4/5780/228/38,5/5850/160/24,6/5920/228/38,7/5990/228/52,8/6070/210/24,9/6140/228/38,10/6210/228/38,11/6280/150/24,12/6350/228/52,13/6430/228/38,14/6500/200/24,15/6570/228/38,16/6650/228/52,17/6730/180/24,18/6800/228/38,19/6870/228/38,20/6940/140/24,21/7395/120/24} {
  \node[tLeaf, anchor=east, minimum width=\ww pt, minimum height=\hh pt] (SEx\i) at (1028,\yy) {};
  \linkL{PlanE}{SEx\i}
}
\foreach \j/\p/\xx/\yy/\ww/\hh in {1/3/760/5680/228/38,2/3/760/5730/180/24,3/7/760/5970/228/38,4/7/760/6020/200/24,5/12/760/6330/228/38,6/12/760/6385/200/24,7/16/760/6630/228/38,8/16/760/6680/210/24,9/21/870/7010/228/38,10/21/870/7070/200/24,11/21/870/7130/228/52,12/21/870/7200/160/24,13/21/870/7270/228/38,14/21/870/7340/228/38,15/21/870/7410/210/24,16/21/870/7480/228/52,17/21/870/7560/228/38,18/21/870/7630/180/24,19/21/870/7780/160/24} {
  \node[tLeaf, anchor=east, minimum width=\ww pt, minimum height=\hh pt] (SEy\j) at (\xx,\yy) {};
  \linkL{SEx\p}{SEy\j}
}
\foreach \k/\yy/\ww/\hh in {1/7600/210/24,2/7655/228/38,3/7715/200/24,4/7775/228/38,5/7840/210/24,6/7900/228/38,7/7960/200/24} {
  \node[tLeaf, anchor=east, minimum width=\ww pt, minimum height=\hh pt] (SEz\k) at (670,\yy) {};
  \linkL{SEy19}{SEz\k}
}
\end{tikzpicture}
\end{document}
